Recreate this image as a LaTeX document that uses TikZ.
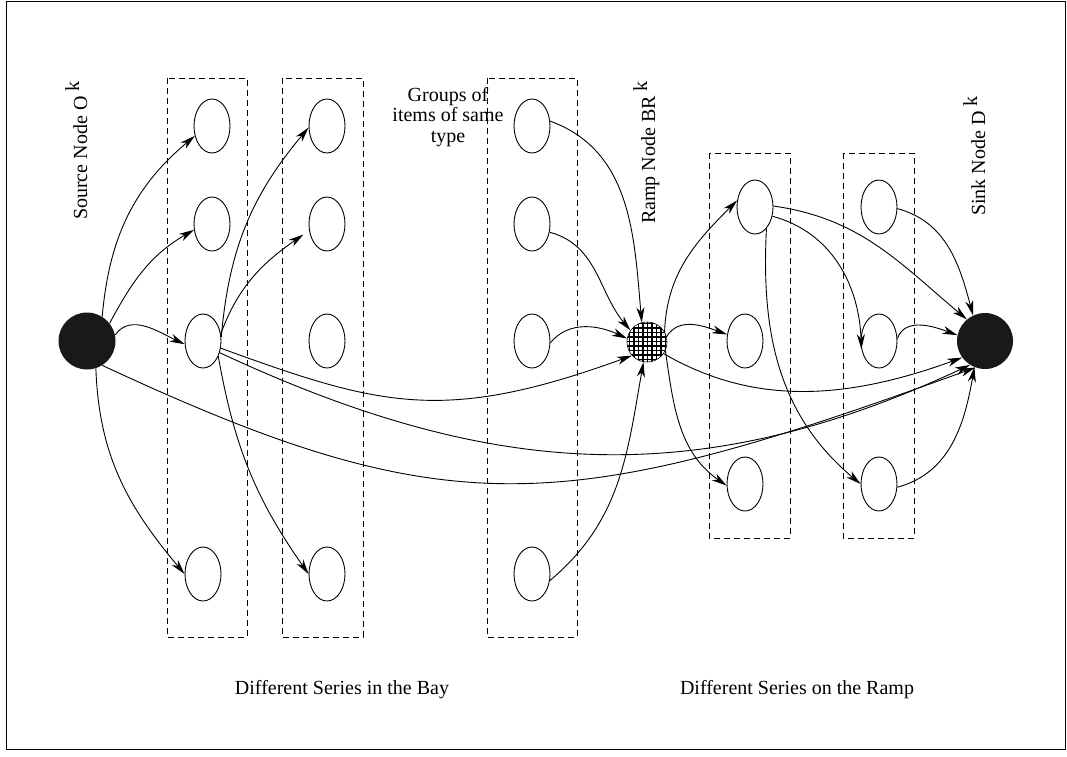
\documentclass[tikz,border=0pt]{standalone}
\usepackage{fontspec}
\setmainfont{Liberation Serif}
\usetikzlibrary{arrows.meta,shapes.geometric}

\begin{document}
\begin{tikzpicture}[x=1pt,y=1pt,
  every node/.style={font=\fontsize{20}{20.5}\selectfont},
  itemnode/.style={draw, ellipse, minimum width=36pt, minimum height=54pt, inner sep=0pt, line width=0.9pt},
  endnode/.style={circle, fill=black!90, minimum size=57pt, inner sep=0pt},
  seriesbox/.style={draw, dash pattern=on 6pt off 4pt, line width=0.9pt},
  flowarrow/.style={line width=0.9pt, -{Stealth[length=15pt,width=8pt,inset=4.5pt]}},
  vlabel/.style={rotate=90, anchor=base west, inner sep=0pt}
]
\useasboundingbox (0,0) rectangle (1067,-756);
\draw[line width=0.8pt] (6.5,-1) rectangle (1065.5,-749.5);

% dashed boxes around each series
\draw[seriesbox] (167,-78) rectangle (247,-637);
\draw[seriesbox] (282,-78) rectangle (363,-637);
\draw[seriesbox] (487,-78) rectangle (577,-637);
\draw[seriesbox] (709,-153) rectangle (790,-538);
\draw[seriesbox] (843,-153) rectangle (914,-538);

% source, ramp and sink nodes
\node[endnode] (O) at (87,-341) {};
\node[endnode, minimum size=56pt] (D) at (985,-341) {};
\node[circle, minimum size=40pt, inner sep=0pt, fill=white, draw, line width=0.6pt,
  path picture={
    \foreach \s in {-22,-17.5,...,22} {
      \draw[line width=1.1pt] ([xshift=\s pt]path picture bounding box.north) -- ([xshift=\s pt]path picture bounding box.south);
      \draw[line width=1.1pt] ([yshift=\s pt]path picture bounding box.west) -- ([yshift=\s pt]path picture bounding box.east);
    }}] (R) at (647,-342) {};

% items in the bay
\node[itemnode] (a1) at (212,-126) {};
\node[itemnode] (a2) at (212,-224) {};
\node[itemnode] (a3) at (203,-341) {};
\node[itemnode] (a4) at (203,-574) {};
\node[itemnode] (b1) at (327,-126) {};
\node[itemnode] (b2) at (327,-224) {};
\node[itemnode] (b3) at (327,-341) {};
\node[itemnode] (b4) at (327,-574) {};
\node[itemnode] (c1) at (532,-126) {};
\node[itemnode] (c2) at (532,-224) {};
\node[itemnode] (c3) at (532,-341) {};
\node[itemnode] (c4) at (532,-574) {};
% items on the ramp
\node[itemnode] (d1) at (755,-207) {};
\node[itemnode] (d2) at (745,-341) {};
\node[itemnode] (d3) at (745,-484) {};
\node[itemnode] (e1) at (879,-207) {};
\node[itemnode] (e2) at (879,-341) {};
\node[itemnode] (e3) at (879,-484) {};

% labels
\node[vlabel] (lO) at (87,-220) {Source Node O \raisebox{8pt}{k}};
\node[vlabel] (lR) at (655,-224) {Ramp Node BR \raisebox{8pt}{k}};
\node[vlabel] (lD) at (985,-216) {Sink Node D \raisebox{8pt}{k}};
\node[align=center, inner sep=0pt] (grp) at (448,-117) {Groups of\\items of same\\type};
\node[anchor=base, inner sep=0pt] (bay) at (342,-694) {Different Series in the Bay};
\node[anchor=base, inner sep=0pt] (rmp) at (797,-694) {Different Series on the Ramp};

% flows out of the source
\draw[flowarrow] (O.58) to[out=85,in=220] (a1.210);
\draw[flowarrow] (O.38) to[out=62,in=210] (a2.198);
\draw[flowarrow] (O.12) to[out=55,in=155] (a3.190);
\draw[flowarrow] (O.-72) to[out=-88,in=130] (a4.180);
\draw[flowarrow] (O.-58) .. controls +(-25:383) and +(200:438) .. (D.250);

% flows out of the middle item of the first series
\draw[flowarrow] (a3.12) to[out=85,in=230] (b1.185);
\draw[flowarrow, shorten >=7pt] (a3.22) to[out=70,in=215] (b2.200);
\draw[flowarrow] (a3.-45) to[out=-80,in=125] (b4.180);
\draw[flowarrow] (a3.-22) .. controls +(-20:170) and +(200:200) .. (R.222);
\draw[flowarrow] (a3.-35) .. controls +(-25:300) and +(205:300) .. (D.238);

% third series into the ramp node
\draw[flowarrow] (c1.15) to[out=-20,in=95] (R.105);
\draw[flowarrow] (c2.-25) to[out=-15,in=130] (R.145);
\draw[flowarrow] (c3.-5) to[out=50,in=155] (R.170);
\draw[flowarrow] (c4.-20) to[out=40,in=-100] (R.-100);

% ramp node onward
\draw[flowarrow] (R.30) to[out=88,in=225] (d1.160);
\draw[flowarrow] (R.15) to[out=60,in=160] (d2.160);
\draw[flowarrow] (R.-25) to[out=-82,in=145] (d3.185);
\draw[flowarrow] (R.-35) .. controls +(-30:100) and +(200:130) .. (D.216);

% ramp series into the sink
\draw[flowarrow] (d1.3) to[out=-8,in=140] (D.130);
\draw[flowarrow] (d1.-28) to[out=-15,in=92] (e2.205);
\draw[flowarrow] (d1.-62) to[out=-93,in=140] (e3.180);
\draw[flowarrow] (e1.-5) to[out=-15,in=105] (D.115);
\draw[flowarrow] (e2.8) to[out=70,in=160] (D.168);
\draw[flowarrow] (e3.-10) to[out=15,in=-100] (D.-112);
\end{tikzpicture}
\end{document}
